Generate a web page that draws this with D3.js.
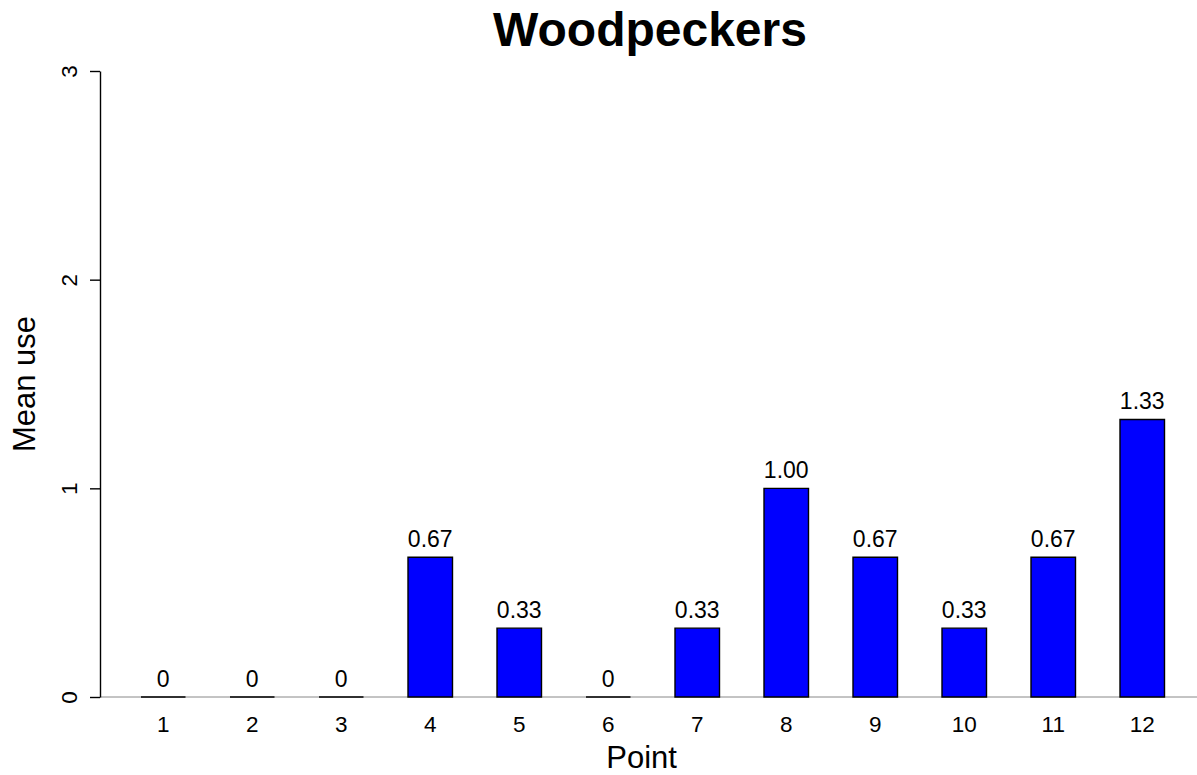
<!DOCTYPE html>
<html>
<head>
<meta charset="utf-8">
<script src="https://cdn.jsdelivr.net/npm/d3@7"></script>
<style>
  html, body { margin: 0; padding: 0; background: #fff; }
  svg { display: block; font-family: "Liberation Sans", Arial, Helvetica, sans-serif; }
</style>
</head>
<body>
<svg id="chart" width="1197" height="775"></svg>
<script>
const categories = ["1","2","3","4","5","6","7","8","9","10","11","12"];
const values = [0, 0, 0, 0.67, 0.33, 0, 0.33, 1.00, 0.67, 0.33, 0.67, 1.33];
const valueLabels = ["0","0","0","0.67","0.33","0","0.33","1.00","0.67","0.33","0.67","1.33"];
const yTicks = [0, 1, 2, 3];
const title = "Woodpeckers";
const xTitle = "Point";
const yTitle = "Mean use";

const svg = d3.select("#chart");

// x in R barplot user units: bar i spans [2i-1, 2i]
const x = d3.scaleLinear().domain([0, 24]).range([96.5, 96.5 + 24 * 44.5]);
const y = d3.scaleLinear().domain([0, 3]).range([697, 71]);

// baseline line
svg.append("line")
  .attr("x1", 100).attr("x2", 1197)
  .attr("y1", y(0)).attr("y2", y(0))
  .attr("stroke", "#888").attr("stroke-width", 1);

// bars (paths so zero-height bars still show their outline)
svg.selectAll("path.bar").data(values).enter().append("path")
  .attr("class", "bar")
  .attr("d", (d, i) => {
    const x0 = x(2 * (i + 1) - 1), x1 = x(2 * (i + 1));
    return `M${x0},${y(0)}H${x1}V${y(d)}H${x0}Z`;
  })
  .attr("fill", "#0000ff")
  .attr("stroke", "#000")
  .attr("stroke-width", 1.4);

// value labels
svg.selectAll("text.val").data(values).enter().append("text")
  .attr("class", "val")
  .attr("x", (d, i) => x(2 * (i + 1) - 0.5))
  .attr("y", d => y(d) - 10)
  .attr("text-anchor", "middle")
  .attr("font-size", 23)
  .attr("fill", "#000")
  .text((d, i) => valueLabels[i]);

// x category labels
svg.selectAll("text.cat").data(categories).enter().append("text")
  .attr("class", "cat")
  .attr("x", (d, i) => x(2 * (i + 1) - 0.5))
  .attr("y", 732)
  .attr("text-anchor", "middle")
  .attr("font-size", 22.5)
  .attr("fill", "#000")
  .text(d => d);

// y axis
const yAxis = d3.axisLeft(y).tickValues(yTicks).tickSize(10).tickSizeOuter(0).tickPadding(12).tickFormat(d3.format("d"));
const gy = svg.append("g").attr("transform", "translate(100,0)").call(yAxis);
gy.select(".domain").attr("stroke", "#000").attr("stroke-width", 1.4);
gy.selectAll(".tick line").attr("stroke", "#000").attr("stroke-width", 1.4);
gy.selectAll(".tick text")
  .attr("font-size", 22.5)
  .attr("font-family", "Liberation Sans, Arial, sans-serif")
  .attr("fill", "#000")
  .attr("x", 0).attr("dy", 0)
  .attr("text-anchor", "middle")
  .attr("transform", "translate(-31,0) rotate(-90)")
  .attr("dominant-baseline", "central");

// title
svg.append("text")
  .attr("x", 650).attr("y", 46)
  .attr("text-anchor", "middle")
  .attr("font-size", 48)
  .attr("font-weight", "bold")
  .attr("fill", "#000")
  .text(title);

// x title
svg.append("text")
  .attr("x", x(12.25)).attr("y", 768)
  .attr("text-anchor", "middle")
  .attr("font-size", 31)
  .attr("fill", "#000")
  .text(xTitle);

// y title
svg.append("text")
  .attr("transform", `translate(35,${y(1.5)}) rotate(-90)`)
  .attr("text-anchor", "middle")
  .attr("font-size", 31)
  .attr("fill", "#000")
  .text(yTitle);
</script>
</body>
</html>
